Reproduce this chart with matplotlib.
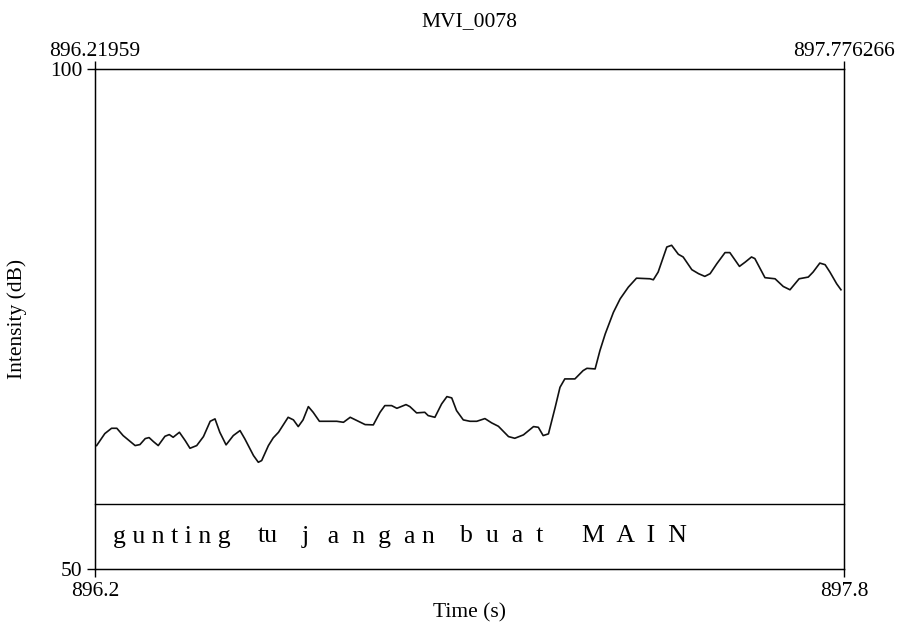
import matplotlib
matplotlib.use("Agg")
import matplotlib.pyplot as plt

plt.rcParams['font.family'] = ['Liberation Serif', 'DejaVu Serif']

title = "MVI_0078"
t_start, t_end = 896.21959, 897.776266
top_labels = ["896.21959", "897.776266"]
bottom_labels = ["896.2", "897.8"]
y_min, y_max = 50, 100
y_labels = ["50", "100"]
tier_words = ["g u n t i n g", "tu", "j   a  n  g  a n", "b  u  a  t", "M  A  I  N"]

time = [896.223, 896.240, 896.254, 896.265, 896.278, 896.303, 896.313, 896.324,
        896.332, 896.341, 896.351, 896.365, 896.374, 896.382, 896.395, 896.407,
        896.417, 896.431, 896.445, 896.459, 896.469, 896.479, 896.492, 896.507,
        896.521, 896.531, 896.549, 896.559, 896.566, 896.580, 896.590, 896.601,
        896.621, 896.632, 896.642, 896.652, 896.663, 896.673, 896.686, 896.722,
        896.736, 896.750, 896.764, 896.781, 896.798, 896.812, 896.822, 896.836,
        896.847, 896.866, 896.874, 896.888, 896.905, 896.912, 896.926, 896.940,
        896.951, 896.961, 896.971, 896.985, 896.999, 897.013, 897.030, 897.044,
        897.058, 897.079, 897.092, 897.110, 897.131, 897.141, 897.151, 897.162,
        897.176, 897.186, 897.196, 897.217, 897.234, 897.242, 897.259, 897.269,
        897.280, 897.297, 897.311, 897.328, 897.345, 897.373, 897.380, 897.390,
        897.408, 897.418, 897.432, 897.442, 897.460, 897.474, 897.487, 897.498,
        897.512, 897.529, 897.539, 897.559, 897.571, 897.584, 897.591, 897.612,
        897.633, 897.650, 897.664, 897.683, 897.702, 897.712, 897.726, 897.737,
        897.747, 897.761, 897.770]

intensity = [62.35, 63.55, 64.08, 64.08, 63.35, 62.35, 62.45, 63.05,
             63.15, 62.75, 62.35, 63.28, 63.45, 63.18, 63.68, 62.85,
             62.08, 62.35, 63.25, 64.78, 65.02, 63.68, 62.42, 63.35,
             63.85, 63.02, 61.35, 60.68, 60.85, 62.35, 63.12, 63.68,
             65.18, 64.92, 64.25, 64.92, 66.25, 65.68, 64.78, 64.78,
             64.68, 65.18, 64.85, 64.45, 64.42, 65.68, 66.35, 66.35,
             66.08, 66.45, 66.25, 65.62, 65.68, 65.35, 65.18, 66.52,
             67.25, 67.12, 65.85, 64.92, 64.78, 64.78, 65.05, 64.62,
             64.28, 63.25, 63.08, 63.42, 64.25, 64.18, 63.35, 63.52,
             66.18, 68.18, 69.02, 69.02, 69.85, 70.08, 70.02, 71.85,
             73.52, 75.68, 77.03, 78.20, 79.10, 79.04, 78.94, 79.71,
             82.22, 82.39, 81.49, 81.22, 79.95, 79.55, 79.28, 79.55,
             80.55, 81.66, 81.66, 80.28, 80.71, 81.22, 81.06, 79.15,
             79.04, 78.27, 77.94, 79.04, 79.21, 79.71, 80.61, 80.45,
             79.71, 78.54, 77.94]

W, H = 898, 626
fig = plt.figure(figsize=(W / 100, H / 100), dpi=100)
left, right, top, bottom = 95, 844, 69.3, 569
ax = fig.add_axes([left / W, 1 - bottom / H, (right - left) / W, (bottom - top) / H])

ax.plot(time, intensity, color='#111111', lw=1.2)
ax.set_xlim(t_start, t_end)
ax.set_ylim(y_min, y_max)

for s in ax.spines.values():
    s.set_linewidth(1.0)
    s.set_color('black')

ax.set_xticks([t_start, t_end])
ax.set_xticklabels(bottom_labels)
ax.set_yticks([y_min, y_max])
ax.set_yticklabels(y_labels)
ax.tick_params(axis='both', direction='out', length=6, width=1.0, labelsize=15.5, pad=3)

ax2 = ax.twiny()
ax2.set_xlim(t_start, t_end)
ax2.set_xticks([t_start, t_end])
ax2.set_xticklabels(top_labels)
ax2.tick_params(axis='x', direction='out', length=6, width=1.0, labelsize=15.5, pad=0)

# text tier separator
tier_frac = (bottom - 504) / (bottom - top)
ax.plot([0, 1], [tier_frac, tier_frac], transform=ax.transAxes, color='black', lw=1.0, clip_on=False)
word_px = [113, 258, 302, 460, 582]
for px, word in zip(word_px, tier_words):
    ax.text((px - left) / (right - left), tier_frac / 2, word, transform=ax.transAxes,
            ha='left', va='center', fontsize=18.5)

ax.set_xlabel("Time (s)", fontsize=15.5, labelpad=2)
ax.set_ylabel("Intensity (dB)", fontsize=15.5)
ax.yaxis.set_label_coords((27 - left) / (right - left), 0.5)
fig.text((left + right) / 2 / W, 1 - 22 / H, title, ha='center', va='center', fontsize=15.5)

fig.savefig("out.png", dpi=100)
